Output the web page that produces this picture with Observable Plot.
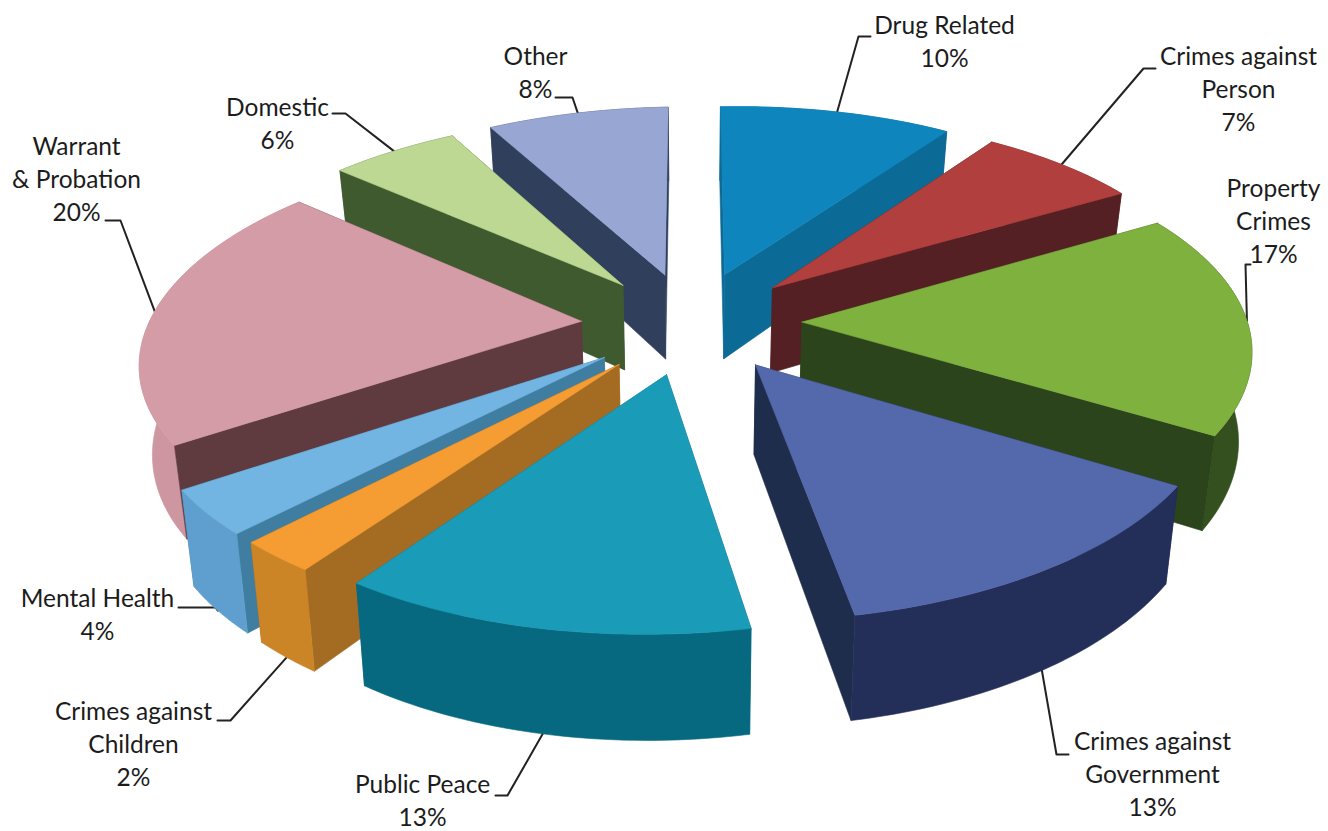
<!DOCTYPE html>
<html><head><meta charset="utf-8">
<script src="https://cdn.jsdelivr.net/npm/d3@7"></script>
<script src="https://cdn.jsdelivr.net/npm/@observablehq/plot@0.6"></script>
<style>html,body{margin:0;padding:0;background:#fff}svg{display:block}</style>
</head><body><div id="chart"></div>
<script>
const categories = ["Drug Related","Crimes against\nPerson","Property\nCrimes","Crimes against\nGovernment","Public Peace","Crimes against\nChildren","Mental Health","Warrant\n& Probation","Domestic","Other"];
const values = [10,7,17,13,13,2,4,20,6,8];
const topColors  = ["#0e86bd","#b03f3d","#7fb13f","#5468ac","#1a9bb8","#f59c32","#72b4e2","#d39ca6","#bcd892","#98a6d4"];
const wallColors = ["#0c6a96","#7a2a2a","#34501f","#232f58","#06697f","#cc8526","#5f9fcf","#cd96a1","#4a6a3c","#3b4a6a"];
const cutColors  = ["#0c6a96","#552024","#2c441b","#1f2d4d","#0b6f8a","#a46c22","#3f7ea0","#5f3b3f","#3f5a2f","#2f3f5c"];
// label block centres and leader elbows on the page
const labelX = [944,1238,1273,1152,422,133,97,76,277,535];
const labelY = [39,87,219,772,798,742,612,177,121,70];
const stubStartX = [870,1155,1250,1068,495,217,178,105,332,555];
const elbowX = [858,1143,1245,1056,507,230,215,120,345,572];
const elbowY = [36,68,264,754,795,720,607,220,113,97];
// per-slice radius as seen in the picture
const radius = [1,1,1,1,1,1,1,0.987,1,1];

// pie model: tilted perspective, plus a small distortion of the scanned picture
const cx=691, cy=322, rx=442, ry=205, persp=0.145, depth=87, explode=0.25, converge=0.024, roll=0.018;
const warp=d3.scaleLinear().domain([0,90,170,216,223.2,237.6,310,331,360]).range([0,0,1.3,0,1.8,0,3,1,0]);
const project=(X,Y,z)=>{
  const w=1+persp*Y, px=rx*X/w*(1-converge*z);
  return [cx+px, cy+(-ry*Y+depth*z)/w-roll*px];
};
const total=d3.sum(values);
let cum=0;
const slices=values.map((v,i)=>{
  const a0=cum/total*2*Math.PI; cum+=v; const a1=cum/total*2*Math.PI; const mid=(a0+a1)/2;
  return {i,a0,a1,mid,r:radius[i],ox:explode*Math.sin(mid),oy:explode*Math.cos(mid)};
});
const warped=a=>a+warp(a*180/Math.PI)*Math.PI/180;
const rim=(s,a,z)=>{const b=warped(a);return project(s.ox+s.r*Math.sin(b),s.oy+s.r*Math.cos(b),z);};
const apex=(s,z)=>project(s.ox,s.oy,z);
const arc=(s,z)=>d3.range(0,41).map(k=>rim(s,s.a0+(s.a1-s.a0)*k/40,z));

const faces=[];
const addFace=(id,color,pts)=>{
  [...pts,pts[0]].forEach(p=>faces.push({id,color,x:p[0],y:p[1]}));
};
slices.slice().sort((a,b)=>Math.cos(b.mid)-Math.cos(a.mid)).forEach(s=>{
  const parts=[
    {d:Math.cos(s.a0), c:cutColors[s.i], pts:[apex(s,0),rim(s,s.a0,0),rim(s,s.a0,1),apex(s,1)]},
    {d:Math.cos(s.a1), c:cutColors[s.i], pts:[apex(s,0),rim(s,s.a1,0),rim(s,s.a1,1),apex(s,1)]},
    {d:Math.cos(s.mid)*1.2, c:wallColors[s.i], pts:[...arc(s,0),...arc(s,1).reverse()]}
  ].sort((a,b)=>b.d-a.d);
  parts.forEach((p,k)=>addFace(`s${s.i}-${k}`,p.c,p.pts));
  addFace(`s${s.i}-top`,topColors[s.i],[apex(s,0),...arc(s,0)]);
});

const leaders=[];
slices.forEach(s=>{
  const z=Math.cos(s.mid)<-0.3?1:0;
  const a=rim(s,s.mid,z);
  [[stubStartX[s.i],elbowY[s.i]],[elbowX[s.i],elbowY[s.i]],a].forEach(p=>leaders.push({id:s.i,x:p[0],y:p[1]}));
});
const labels=categories.map((c,i)=>({text:`${c}\n${values[i]}%`,x:labelX[i],y:labelY[i]}));

const chart=Plot.plot({
  width:1328,height:831,margin:0,
  x:{domain:[0,1328],range:[0,1328],axis:null},
  y:{domain:[0,831],range:[0,831],axis:null},
  marks:[
    Plot.line(leaders,{x:"x",y:"y",z:"id",stroke:"#222",strokeWidth:2}),
    Plot.line(faces,{x:"x",y:"y",z:"id",fill:"color",stroke:"color",strokeWidth:0.6}),
    Plot.text(labels,{x:"x",y:"y",text:"text",fontSize:24.5,lineHeight:1.35,fontFamily:"Lato",fill:"#1c1c1c"})
  ]
});
document.getElementById("chart").append(chart);
</script></body></html>
